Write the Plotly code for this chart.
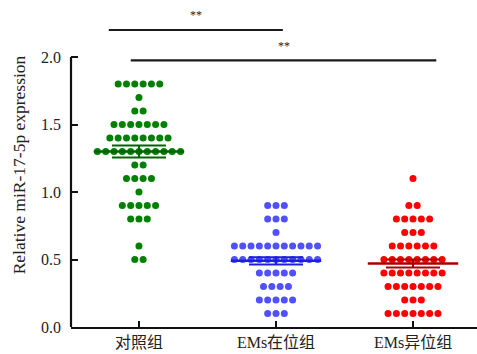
import plotly.graph_objects as go

# ---- data ----
categories = ["对照组", "EMs在位组", "EMs异位组"]

control_values = [
    1.8, 1.8, 1.8, 1.8, 1.8, 1.8,
    1.7,
    1.6, 1.6,
    1.5, 1.5, 1.5, 1.5, 1.5, 1.5, 1.5,
    1.4, 1.4, 1.4, 1.4, 1.4, 1.4, 1.4, 1.4,
    1.3, 1.3, 1.3, 1.3, 1.3, 1.3, 1.3, 1.3, 1.3, 1.3, 1.3,
    1.2, 1.2,
    1.1, 1.1, 1.1, 1.1,
    1.0,
    0.9, 0.9, 0.9, 0.9, 0.9,
    0.8, 0.8, 0.8,
    0.6,
    0.5, 0.5,
]
eutopic_values = [
    0.9, 0.9, 0.9,
    0.8, 0.8, 0.8,
    0.7,
    0.6, 0.6, 0.6, 0.6, 0.6, 0.6, 0.6, 0.6, 0.6, 0.6, 0.6,
    0.5, 0.5, 0.5, 0.5, 0.5, 0.5, 0.5, 0.5, 0.5, 0.5, 0.5,
    0.4, 0.4, 0.4, 0.4, 0.4,
    0.3, 0.3, 0.3, 0.3,
    0.2, 0.2, 0.2, 0.2, 0.2,
    0.1, 0.1, 0.1,
]
ectopic_values = [
    1.1,
    0.9, 0.9,
    0.8, 0.8, 0.8, 0.8, 0.8,
    0.7, 0.7, 0.7,
    0.6, 0.6, 0.6, 0.6, 0.6, 0.6,
    0.5, 0.5, 0.5, 0.5, 0.5, 0.5, 0.5, 0.5,
    0.4, 0.4, 0.4, 0.4, 0.4, 0.4, 0.4, 0.4,
    0.3, 0.3, 0.3, 0.3, 0.3, 0.3, 0.3,
    0.2, 0.2, 0.2,
    0.1, 0.1, 0.1, 0.1, 0.1, 0.1, 0.1,
]
group_values = [control_values, eutopic_values, ectopic_values]
group_means = [1.30, 0.49, 0.47]
group_sems = [0.045, 0.027, 0.03]

y_tick_values = [0.0, 0.5, 1.0, 1.5, 2.0]
y_tick_labels = ["0.0", "0.5", "1.0", "1.5", "2.0"]

# significance brackets: (from x, to x, line level, label)
brackets = [(-0.22, 1.05, 2.20, "**"), (-0.06, 2.17, 1.975, "**")]

# ---- styling ----
dot_colors = ["#008000", "#5050ff", "#ff0000"]
mean_colors = ["#006400", "#1e1ee0", "#a80000"]
dot_step = 0.0607      # horizontal spacing of swarm dots (x units)
mean_half = 0.33       # half-width of the mean line (x units)
font_fam = "Liberation Serif, Noto Sans CJK SC, serif"

fig = go.Figure()

# swarm dots
for gi, vals in enumerate(group_values):
    rows = {}
    for v in vals:
        rows.setdefault(v, []).append(v)
    xs, ys = [], []
    for v, items in rows.items():
        n = len(items)
        for k in range(n):
            xs.append(gi + (k - (n - 1) / 2) * dot_step)
            ys.append(v)
    fig.add_trace(go.Scatter(
        x=xs, y=ys, mode="markers",
        marker=dict(size=7, color=dot_colors[gi], line=dict(width=0)),
        cliponaxis=False, showlegend=False, hoverinfo="skip"))

# mean lines and SEM bars
for gi, (m, s) in enumerate(zip(group_means, group_sems)):
    fig.add_trace(go.Scatter(
        x=[gi - mean_half, gi + mean_half], y=[m, m], mode="lines",
        line=dict(color=mean_colors[gi], width=2.5),
        showlegend=False, hoverinfo="skip"))
    fig.add_trace(go.Scatter(
        x=[gi], y=[m], mode="markers",
        marker=dict(size=1, color=mean_colors[gi]),
        error_y=dict(type="data", array=[s], visible=True,
                     color=mean_colors[gi], thickness=2, width=27),
        showlegend=False, hoverinfo="skip"))

# significance brackets
for x0, x1, yl, lab in brackets:
    fig.add_shape(type="line", xref="x", yref="y", x0=x0, x1=x1, y0=yl, y1=yl,
                  line=dict(color="#1a1a1a", width=2.2))
    fig.add_annotation(x=(x0 + x1) / 2, y=yl + 0.11, text=lab, showarrow=False,
                       font=dict(family=font_fam, size=12, color="#222222"))

# y-axis line only up to 2.0
fig.add_shape(type="line", xref="paper", yref="y", x0=0, x1=0,
              y0=y_tick_values[0], y1=y_tick_values[-1],
              line=dict(color="#111111", width=2.2))

fig.update_layout(
    width=477, height=354,
    margin=dict(l=71, r=0, t=3, b=27),
    paper_bgcolor="white", plot_bgcolor="white",
    font=dict(family=font_fam, color="#222222"),
    xaxis=dict(
        range=[-0.496, 2.467], tickmode="array", tickvals=[0, 1, 2],
        ticktext=categories, ticks="inside", ticklen=6, tickwidth=2,
        tickcolor="#111111", showline=True, linecolor="#111111", linewidth=2.2,
        showgrid=False, zeroline=False,
        tickfont=dict(family=font_fam, size=16, color="#222222"),
    ),
    yaxis=dict(
        range=[0, 2.4], tickmode="array", tickvals=y_tick_values,
        ticktext=y_tick_labels, ticks="inside", ticklen=7, tickwidth=2,
        tickcolor="#111111", showline=False, showgrid=False, zeroline=False,
        tickfont=dict(family=font_fam, size=16, color="#222222"),
        ticklabelstandoff=9,
        title=dict(text="Relative miR-17-5p expression", standoff=10,
                   font=dict(family=font_fam, size=17.5, color="#222222")),
    ),
)

fig.write_html("out.html",
               config={"displayModeBar": False},
               post_script="document.body.style.margin='0';document.body.style.padding='0';")
